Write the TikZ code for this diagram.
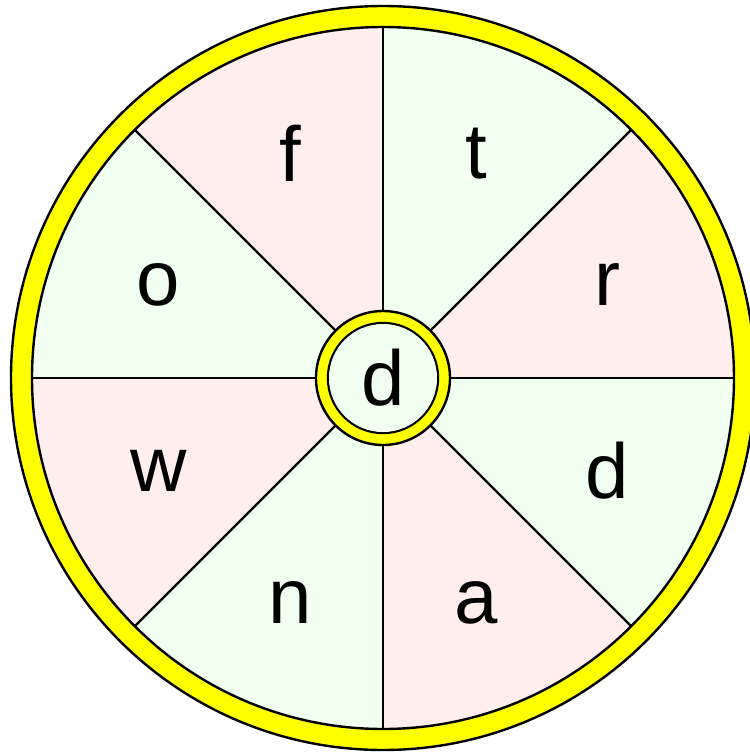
\documentclass[tikz,border=0pt]{standalone}
\usepackage{fontspec}
\setmainfont{Liberation Sans}
\usepackage{xcolor}
\definecolor{wheelPink}{HTML}{FFEEEE}
\definecolor{wheelGreen}{HTML}{F0FFF0}
\definecolor{wheelYellow}{HTML}{FFFF00}

\begin{document}
\begin{tikzpicture}[x=1pt, y=1pt,
  sector/.style={draw=none},
  spoke/.style={line width=2.2pt, draw=black},
  rim/.style={fill=wheelYellow, draw=black, line width=2.4pt, even odd rule},
  letter/.style={font=\fontsize{78}{78}\selectfont, inner sep=0pt, anchor=center},
]
\useasboundingbox (-383,-375) rectangle (367,378);

% sectors, counter-clockwise from the right
\foreach \a/\col in {0/wheelPink,45/wheelGreen,90/wheelPink,135/wheelGreen,180/wheelPink,225/wheelGreen,270/wheelPink,315/wheelGreen} {
  \fill[sector, fill=\col] (0,0) -- (\a:352) arc (\a:\a+45:352) -- cycle;
}
\foreach \a in {0,45,...,315} {
  \draw[spoke] (0,0) -- (\a:352);
}

% outer rim
\path[rim] (0,0) circle (372) (0,0) circle (351);

% letters
\foreach \a/\txt/\nm in {22.5/r/lr,67.5/t/lt,112.5/f/lf,157.5/o/lo,202.5/w/lw,247.5/n/ln,292.5/a/la,337.5/d/ld} {
  \node[letter] (\nm) at (\a:243) {\txt};
}

% hub
\path[rim] (0,0) circle (67) (0,0) circle (55);
\fill[wheelGreen] (0,0) circle (54);
\node[letter] (hub) at (0,0) {d};
\end{tikzpicture}
\end{document}
